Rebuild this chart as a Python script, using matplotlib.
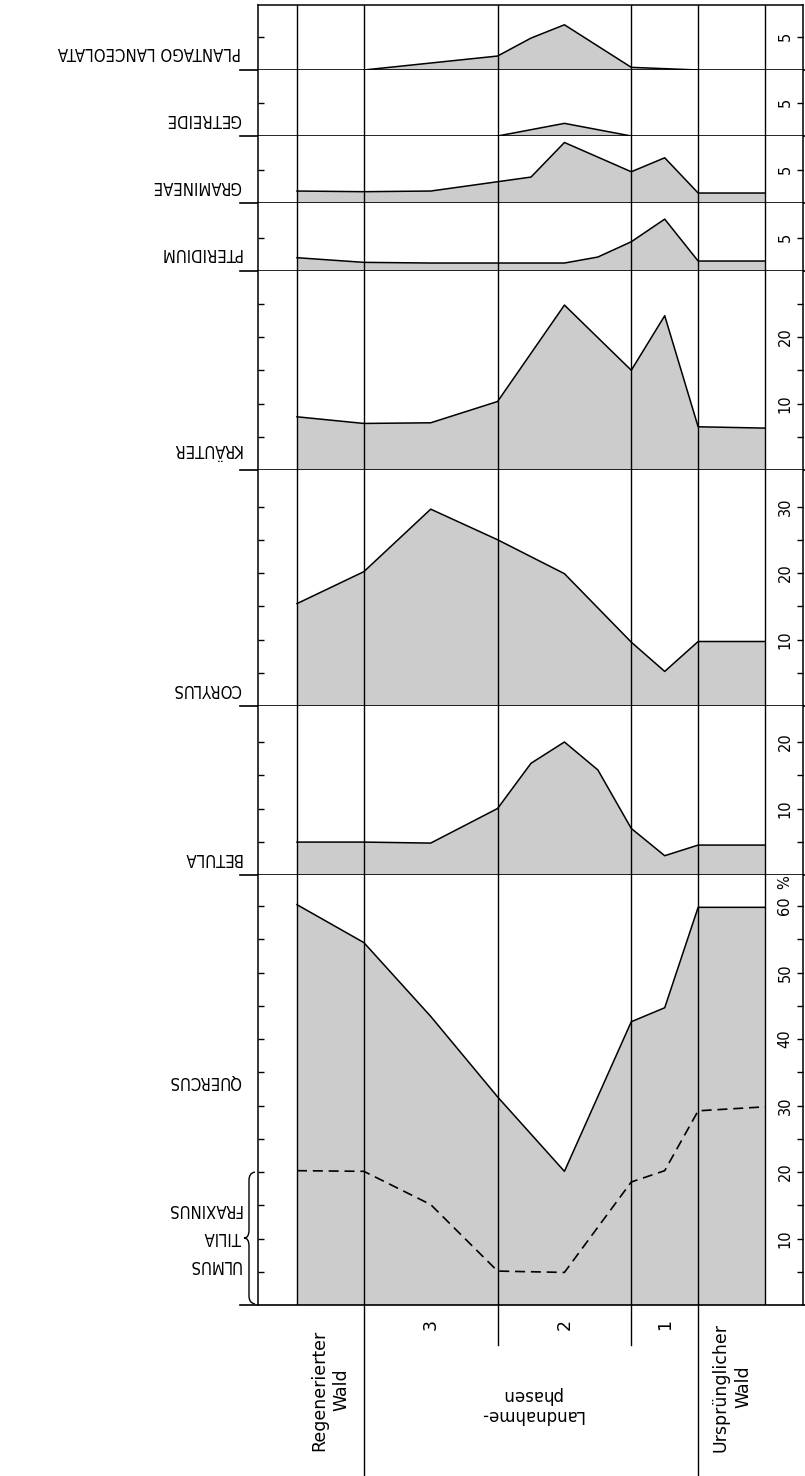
import numpy as np
import matplotlib.pyplot as plt
from matplotlib.path import Path
from matplotlib.patches import PathPatch
import matplotlib.transforms as mtransforms
from matplotlib import font_manager

# Pollendiagramm: Landnahmephasen (Werte in %)
# Probenachse: 0-1 Regenerierter Wald, 1-3 Phase 3, 3-5 Phase 2, 5-6 Phase 1, 6-7 Urspr. Wald
zone_edges = [0, 1, 3, 5, 6, 7]

plantago_x = [1, 3, 3.5, 4, 5, 6]
plantago = [0, 2.1, 4.8, 6.8, 0.4, 0]

getreide_x = [3, 4, 5]
getreide = [0, 1.9, 0]

gramineae_x = [0, 1, 2, 3, 3.5, 4, 5, 5.5, 6, 7]
gramineae = [1.8, 1.7, 1.8, 3.2, 3.9, 9.1, 4.7, 6.8, 1.5, 1.5]

pteridium_x = [0, 1, 2, 3, 4, 4.5, 5, 5.5, 6, 7]
pteridium = [2.0, 1.3, 1.2, 1.2, 1.2, 2.1, 4.4, 7.8, 1.5, 1.5]

kraeuter_x = [0, 1, 2, 3, 4, 5, 5.5, 6, 7]
kraeuter = [8.0, 7.0, 7.1, 10.3, 24.8, 15.0, 23.2, 6.5, 6.3]

corylus_x = [0, 1, 2, 3, 4, 5, 5.5, 6, 7]
corylus = [15.4, 20.2, 29.6, 25.0, 19.9, 9.6, 5.2, 9.7, 9.7]

betula_x = [0, 1, 2, 3, 3.5, 4, 4.5, 5, 5.5, 6, 7]
betula = [4.95, 4.95, 4.8, 10.0, 16.8, 20.0, 15.8, 7.0, 2.9, 4.5, 4.5]

quercus_x = [0, 1, 2, 3, 4, 5, 5.5, 6, 7]
quercus = [60.2, 54.5, 43.4, 31.3, 20.1, 42.6, 44.7, 59.8, 59.8]

utf_x = [0, 1, 2, 3, 4, 5, 5.5, 6, 7]   # Ulmus + Tilia + Fraxinus
utf = [20.2, 20.1, 15.1, 5.1, 4.9, 18.5, 20.2, 29.2, 29.8]

names = ["PLANTAGO LANCEOLATA", "GETREIDE", "GRAMINEAE", "PTERIDIUM",
         "KRÄUTER", "CORYLUS", "BETULA", "QUERCUS"]
tick_sets = [[5], [5], [5], [5],
             [5, 10, 15, 20, 25],
             [5, 10, 15, 20, 25, 30],
             [5, 10, 15, 20],
             list(range(5, 65, 5))]
label_sets = [[5], [5], [5], [5], [10, 20], [10, 20, 30], [10, 20],
              [10, 20, 30, 40, 50, 60]]
series = [(plantago_x, plantago), (getreide_x, getreide),
          (gramineae_x, gramineae), (pteridium_x, pteridium),
          (kraeuter_x, kraeuter), (corylus_x, corylus),
          (betula_x, betula), (quercus_x, quercus)]

# --- layout (pixels of the 805x1476 picture) ---
W, H = 805, 1476
frame_l, frame_r = 258, 803
x0_px, x7_px = 297, 765
unit = (x7_px - x0_px) / 7
xlim = (-(x0_px - frame_l) / unit, 7 + (frame_r - x7_px) / unit)
px_per_pct = 6.65
bounds = [(5, 70), (70, 136), (136, 203), (203, 271), (271, 470),
          (470, 706), (706, 875), (875, 1305)]
name_off = [18, 17, 17, 18, 21, 17, 17, 224]   # label centre above baseline
FILL = '#cccccc'

# condensed face if the system has one, else plain DejaVu Sans
cond = font_manager.FontProperties(family='DejaVu Sans', stretch='condensed')
cond_file = font_manager.findfont(cond)
if 'Condensed' in cond_file:
    lab_fp = dict(fontproperties=font_manager.FontProperties(fname=cond_file, size=12))
    tick_size = 10.5
else:
    lab_fp = dict(family='DejaVu Sans', fontsize=10.5)
    tick_size = 9.5

fig = plt.figure(figsize=(W / 100, H / 100), dpi=100)
aw = (frame_r - frame_l) / W

axes = []
for i, (name, (xs, ys), ticks, labs) in enumerate(
        zip(names, series, tick_sets, label_sets)):
    top, bot = bounds[i]
    ax = fig.add_axes([frame_l / W, 1 - bot / H, aw, (bot - top) / H])
    ax.set_xlim(*xlim)
    ax.set_ylim(0, (bot - top) / px_per_pct)
    for s in ['left', 'right']:
        ax.spines[s].set_linewidth(1.1)
    ax.spines['bottom'].set_visible(False)
    ax.spines['top'].set_visible(i == 0)
    ax.spines['top'].set_linewidth(1.1)
    ax.set_xticks([])
    ax.set_yticks(ticks)
    ax.set_yticklabels([str(t) if t in labs else '' for t in ticks])
    ax.tick_params(axis='y', direction='in', left=True, right=True,
                   labelleft=False, labelright=True, length=4.3, width=1.0,
                   pad=-13, labelsize=tick_size, labelrotation=90)
    for lab in ax.get_yticklabels():
        lab.set_ha('center')
        lab.set_va('center')
        lab.set_family('DejaVu Sans')

    ax.fill_between(xs, 0, ys, facecolor=FILL, edgecolor='none', zorder=1)
    ax.plot(xs, ys, color='k', lw=1.1, zorder=3)
    for e in zone_edges:
        ax.axvline(e, color='k', lw=1.0, zorder=4)
    ax.axhline(0, xmin=(240 - frame_l) / (frame_r - frame_l), xmax=1.01,
               color='k', lw=1.2, clip_on=False, zorder=5)

    trans = mtransforms.blended_transform_factory(ax.transAxes, ax.transData)
    ax.text((241 - frame_l) / (frame_r - frame_l), name_off[i] / px_per_pct,
            name, transform=trans, rotation=180, ha='right', va='center',
            **lab_fp)
    axes.append(ax)

# Quercus panel extras: Ulmus/Tilia/Fraxinus dashed curve and labels
axq = axes[-1]
axq.plot(utf_x, utf, color='k', lw=1.2, ls=(0, (6, 3.5)), zorder=3)
tq = mtransforms.blended_transform_factory(axq.transAxes, axq.transData)
for txt, off in [("FRAXINUS", 96), ("TILIA", 68), ("ULMUS", 40)]:
    axq.text((241 - frame_l) / (frame_r - frame_l), off / px_per_pct, txt,
             transform=tq, rotation=180, ha='right', va='center', **lab_fp)
axq.text((785 - frame_l) / (frame_r - frame_l), 63.6, '%', transform=tq,
         rotation=90, ha='center', va='center', fontsize=tick_size,
         family='DejaVu Sans')

# curly brace next to ULMUS/TILIA/FRAXINUS (figure pixels)
def fp(x, y):
    return (x / W, 1 - y / H)

b = [(255, 1172), (249, 1173), (249, 1180), (249, 1230), (249, 1238),
     (244, 1238), (249, 1238), (249, 1246), (249, 1296), (249, 1303),
     (255, 1304)]
codes = [Path.MOVETO, Path.CURVE3, Path.CURVE3, Path.LINETO, Path.CURVE3,
         Path.CURVE3, Path.CURVE3, Path.CURVE3, Path.LINETO, Path.CURVE3,
         Path.CURVE3]
fig.add_artist(PathPatch(Path([fp(*p) for p in b], codes),
                         transform=fig.transFigure, fill=False,
                         edgecolor='k', lw=1.0))

# zone labels below the diagram
bax = fig.add_axes([frame_l / W, 0, aw, (H - 1305) / H])
bax.set_xlim(*xlim)
bax.set_ylim(H, 1305)
bax.axis('off')
for e in [1, 6]:
    bax.axvline(e, color='k', lw=1.0)
for e in [3, 5]:
    bax.axvline(e, ymin=(H - 1345) / (H - 1305), ymax=1, color='k', lw=1.0)
for x, t in [(2, '3'), (4, '2'), (5.5, '1')]:
    bax.text(x, 1324, t, rotation=90, ha='center', va='center',
             fontsize=12.5, family='DejaVu Sans')
bax.text(0.5, 1390, 'Regenerierter\nWald', rotation=90, ha='center',
         va='center', fontsize=12.5, linespacing=1.35, family='DejaVu Sans')
bax.text(6.5, 1387, 'Ursprünglicher\nWald', rotation=90, ha='center',
         va='center', fontsize=12.5, linespacing=1.35, family='DejaVu Sans')
bax.text(3.5, 1405, 'Landnahme-\nphasen', rotation=180, ha='center',
         va='center', fontsize=12, linespacing=1.2, family='DejaVu Sans')

fig.savefig('out.png', dpi=100)
